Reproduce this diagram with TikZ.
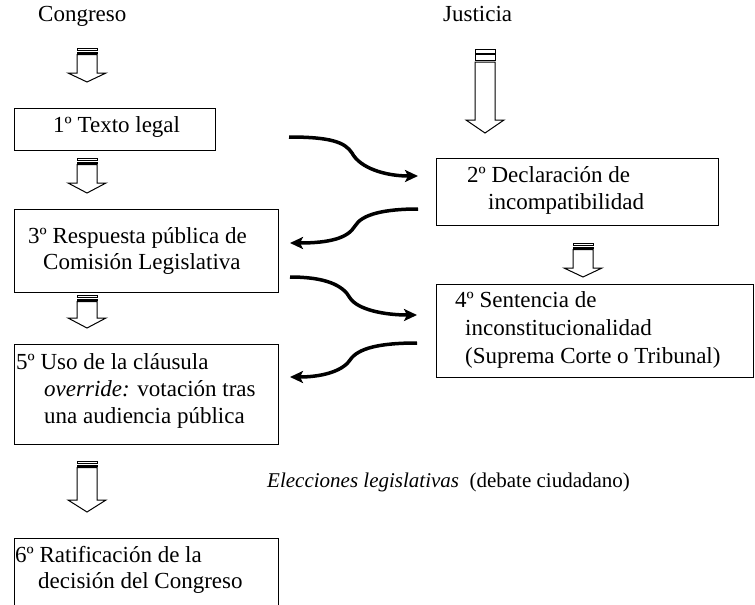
\documentclass[tikz,border=0pt]{standalone}
\usepackage{fontspec}
\setmainfont{Liberation Serif}
\usetikzlibrary{arrows.meta}
% #1 xc, #2 stripe1 top, #3 stripe1 bottom, #4 stripe2 top, #5 stripe2 bottom, #6 body top, #7 head base, #8 tip
\newcommand{\myStripArrow}[8]{%
  \draw[hollow] (#1-10,#2) rectangle (#1+10,#3);
  \draw[hollow] (#1-10,#4) rectangle (#1+10,#5);
  \draw[hollow] (#1-10,#6) -- (#1-10,#7) -- (#1-19,#7) -- (#1,#8) -- (#1+19,#7) -- (#1+10,#7) -- (#1+10,#6) -- cycle;
}
\begin{document}
\begin{tikzpicture}[x=1pt,y=-1pt,
  box/.style={draw=black, line width=1.1pt, inner sep=0pt, anchor=north west},
  txt/.style={inner sep=0pt, anchor=base west, font=\fontsize{23}{27}\selectfont},
  hollow/.style={draw=black, line width=1pt, fill=white, line join=miter},
  curvy/.style={line width=3.5pt, -{Stealth[length=13pt,width=12pt,inset=3pt]}},
]
\useasboundingbox (0,0) rectangle (755,605);

% headers
\node[txt] (hc) at (38,21) {Congreso};
\node[txt] (hj) at (443,21) {Justicia};

% boxes
\node[box, minimum width=201pt, minimum height=42pt] (b1) at (14,108) {};
\node[box, minimum width=264pt, minimum height=83pt] (b3) at (14,209) {};
\node[box, minimum width=264pt, minimum height=100pt] (b5) at (14,344) {};
\node[box, minimum width=264pt, minimum height=90pt] (b6) at (14,538) {};
\node[box, minimum width=282pt, minimum height=67pt] (b2) at (436,158) {};
\node[box, minimum width=317pt, minimum height=93pt] (b4) at (436,284) {};

% texts
\node[txt] (t1) at (53,132) {1º Texto legal};
\node[txt] (t3a) at (28,243) {3º Respuesta pública de};
\node[txt] (t3b) at (43,269) {Comisión Legislativa};
\node[txt] (t5a) at (16,369) {5º Uso de la cláusula};
\node[txt] (t5b) at (44,396) {\textit{override:} votación tras};
\node[txt] (t5c) at (44,423) {una audiencia pública};
\node[txt] (t6a) at (15,562) {6º Ratificación de la};
\node[txt] (t6b) at (38,588) {decisión del Congreso};
\node[txt] (t2a) at (467,182) {2º Declaración de};
\node[txt] (t2b) at (488,209) {incompatibilidad};
\node[txt] (t4a) at (455,307) {4º Sentencia de};
\node[txt] (t4b) at (465,335) {inconstitucionalidad};
\node[txt] (t4c) at (465,363) {(Suprema Corte o Tribunal)};
\node[txt, font=\fontsize{21}{25}\selectfont] (te) at (267,487) {\textit{Elecciones legislativas}\ \ (debate ciudadano)};

% striped block arrows
\myStripArrow{87}{48}{50.5}{52}{53.5}{54.5}{73}{82}
\myStripArrow{87}{158}{160.5}{162}{163.5}{164.5}{183}{193}
\myStripArrow{87}{295}{297.5}{299}{300.5}{301.5}{318}{328}
\myStripArrow{87}{461}{463.5}{465}{466.5}{467.5}{500}{512}
\myStripArrow{485}{49.5}{53}{54.5}{60.5}{62}{120}{133}
\myStripArrow{583}{243}{245.5}{247}{248.5}{249.5}{268}{277}

% curved connector end points
\coordinate (cA1) at (289,137);
\coordinate (cA2) at (418,176);
\coordinate (cB1) at (418,209);
\coordinate (cB2) at (290,243);
\coordinate (cC1) at (290,277);
\coordinate (cC2) at (417,315);
\coordinate (cD1) at (417,343);
\coordinate (cD2) at (290,377);

\draw[curvy] (cA1) .. controls (330,137) and (345,142) .. (352,153) .. controls (360,168) and (385,176) .. (cA2);
\draw[curvy] (cB1) .. controls (385,209) and (362,214) .. (355,226) .. controls (348,238) and (330,243) .. (cB2);
\draw[curvy] (cC1) .. controls (325,277) and (343,285) .. (350,298) .. controls (358,310) and (385,315) .. (cC2);
\draw[curvy] (cD1) .. controls (380,343) and (358,348) .. (350,360) .. controls (342,372) and (320,377) .. (cD2);
\end{tikzpicture}
\end{document}
